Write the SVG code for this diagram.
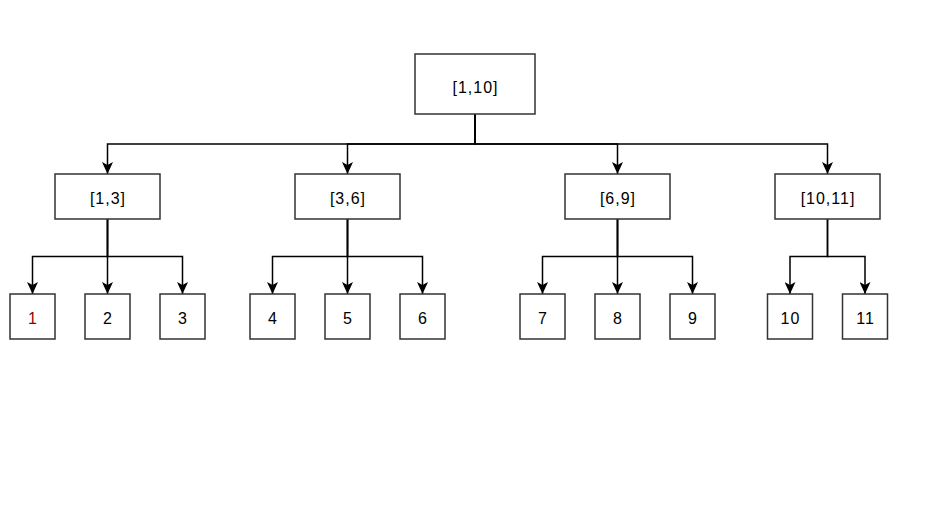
<svg xmlns="http://www.w3.org/2000/svg" width="952" height="527" viewBox="0 0 952 527">
<defs>
<marker id="arr" viewBox="0 0 12 11" refX="12" refY="5.5" markerWidth="12" markerHeight="11" markerUnits="userSpaceOnUse" orient="auto">
<path d="M0,0 L12,5.5 L0,11 L3,5.5 Z" fill="#000"/>
</marker>
<style>
.box{fill:#fff;stroke:#333;stroke-width:1.5}
.t{font-family:"Liberation Sans",Arial,sans-serif;font-size:16px;letter-spacing:1px;fill:#000;text-anchor:middle}
.c{fill:none;stroke:#000;stroke-width:1.5}
</style>
</defs>
<rect width="952" height="527" fill="#fff"/>
<g id="connectors">
<path class="c" d="M475,114 V144 H107.5 V174" marker-end="url(#arr)"/>
<path class="c" d="M475,114 V144 H347.5 V174" marker-end="url(#arr)"/>
<path class="c" d="M475,114 V144 H617.5 V174" marker-end="url(#arr)"/>
<path class="c" d="M475,114 V144 H827.5 V174" marker-end="url(#arr)"/>
<path class="c" d="M107.5,219 V256.5 H32.5 V294" marker-end="url(#arr)"/>
<path class="c" d="M107.5,219 V294" marker-end="url(#arr)"/>
<path class="c" d="M107.5,219 V256.5 H182.5 V294" marker-end="url(#arr)"/>
<path class="c" d="M347.5,219 V256.5 H272.5 V294" marker-end="url(#arr)"/>
<path class="c" d="M347.5,219 V294" marker-end="url(#arr)"/>
<path class="c" d="M347.5,219 V256.5 H422.5 V294" marker-end="url(#arr)"/>
<path class="c" d="M617.5,219 V256.5 H542.5 V294" marker-end="url(#arr)"/>
<path class="c" d="M617.5,219 V294" marker-end="url(#arr)"/>
<path class="c" d="M617.5,219 V256.5 H692.5 V294" marker-end="url(#arr)"/>
<path class="c" d="M827.5,219 V256.5 H790 V294" marker-end="url(#arr)"/>
<path class="c" d="M827.5,219 V256.5 H865 V294" marker-end="url(#arr)"/>
</g>
<g id="n_root"><rect class="box" x="415" y="54" width="120" height="60"/><text class="t" x="475.5" y="92.5">[1,10]</text></g>
<g id="n_1_3"><rect class="box" x="55" y="174" width="105" height="45"/><text class="t" x="108" y="203.5">[1,3]</text></g>
<g id="n_3_6"><rect class="box" x="295" y="174" width="105" height="45"/><text class="t" x="348" y="203.5">[3,6]</text></g>
<g id="n_6_9"><rect class="box" x="565" y="174" width="105" height="45"/><text class="t" x="618" y="203.5">[6,9]</text></g>
<g id="n_10_11"><rect class="box" x="775" y="174" width="105" height="45"/><text class="t" x="828" y="203.5">[10,11]</text></g>
<g id="n1"><rect class="box" x="10" y="294" width="45" height="45"/><text class="t" x="33" y="324" style="fill:#990000">1</text></g>
<g id="n2"><rect class="box" x="85" y="294" width="45" height="45"/><text class="t" x="108" y="324">2</text></g>
<g id="n3"><rect class="box" x="160" y="294" width="45" height="45"/><text class="t" x="183" y="324">3</text></g>
<g id="n4"><rect class="box" x="250" y="294" width="45" height="45"/><text class="t" x="273" y="324">4</text></g>
<g id="n5"><rect class="box" x="325" y="294" width="45" height="45"/><text class="t" x="348" y="324">5</text></g>
<g id="n6"><rect class="box" x="400" y="294" width="45" height="45"/><text class="t" x="423" y="324">6</text></g>
<g id="n7"><rect class="box" x="520" y="294" width="45" height="45"/><text class="t" x="543" y="324">7</text></g>
<g id="n8"><rect class="box" x="595" y="294" width="45" height="45"/><text class="t" x="618" y="324">8</text></g>
<g id="n9"><rect class="box" x="670" y="294" width="45" height="45"/><text class="t" x="693" y="324">9</text></g>
<g id="n10"><rect class="box" x="767.5" y="294" width="45" height="45"/><text class="t" x="790.5" y="324">10</text></g>
<g id="n11"><rect class="box" x="842.5" y="294" width="45" height="45"/><text class="t" x="865.5" y="324">11</text></g>
</svg>
